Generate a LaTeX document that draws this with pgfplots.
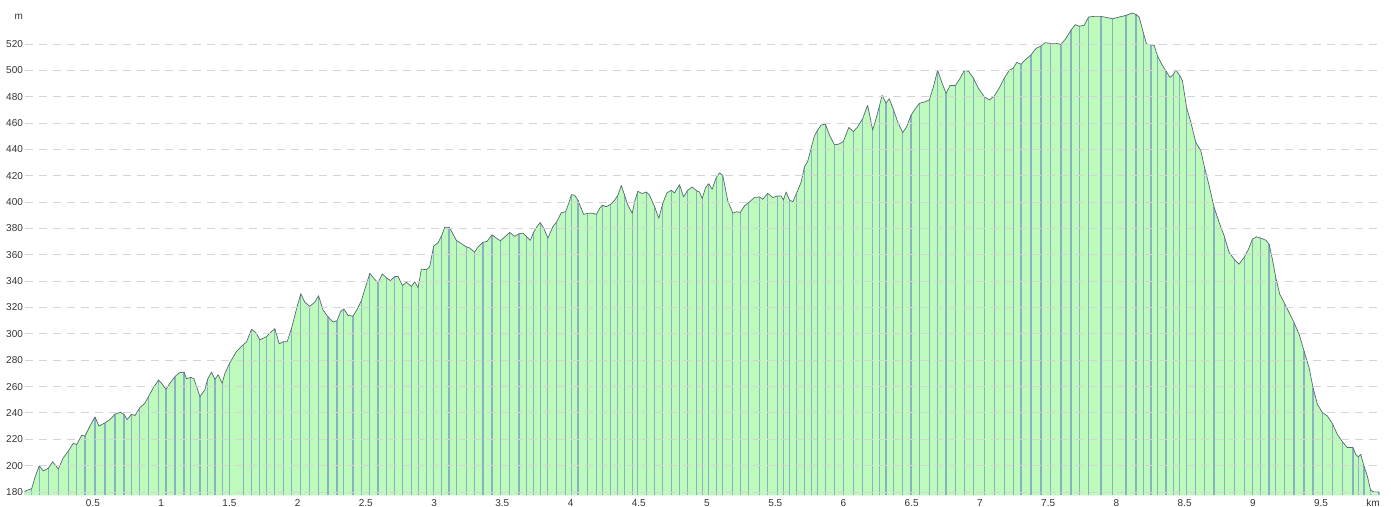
\documentclass[border=0pt]{standalone}
\usepackage{fontspec}
\setmainfont{Liberation Sans}
\usepackage{pgfplots}
\usepackage{pgfplotstable}
\pgfplotsset{compat=1.18}
\definecolor{fillg}{RGB}{190,250,188}
\definecolor{combc}{RGB}{120,155,195}
\definecolor{outl}{RGB}{85,105,115}
\definecolor{gridc}{RGB}{212,212,212}
\pgfplotstableread{
km ele
0.000 180
0.010 181
0.051 182.5
0.075 191
0.107 200
0.136 196
0.173 198
0.205 203
0.246 197.5
0.283 206
0.319 211
0.356 217
0.381 216
0.417 223
0.442 222.5
0.478 230
0.515 237
0.544 230
0.588 232.5
0.625 235
0.661 239
0.703 240.5
0.727 239
0.751 235
0.783 239
0.808 238
0.844 244
0.881 247.5
0.905 252
0.942 259
0.981 265
1.003 262.5
1.035 258
1.064 262.5
1.101 267.5
1.132 270.5
1.167 271
1.186 266
1.216 267
1.240 266
1.284 252.5
1.320 257.5
1.340 265.5
1.369 271
1.394 265.5
1.418 269
1.447 262.5
1.467 270
1.503 278
1.552 286.7
1.601 291.7
1.626 294
1.662 303.5
1.694 301
1.723 295.5
1.747 296.7
1.772 298
1.796 300.5
1.833 304
1.865 292.5
1.894 294
1.923 294
1.955 304
1.992 319
2.023 330.5
2.053 324
2.089 321
2.126 324
2.153 329
2.187 318
2.223 313
2.260 309
2.289 310
2.314 316.7
2.338 319
2.370 314
2.406 313.5
2.438 319
2.468 325.5
2.499 336
2.529 346
2.560 342
2.589 339
2.621 345.5
2.651 342.5
2.680 340.5
2.712 343.5
2.736 343.5
2.768 336.7
2.797 339.2
2.834 336
2.858 339.5
2.883 335
2.907 349.2
2.944 348.7
2.968 351
2.997 366.7
3.029 369.2
3.054 374.2
3.078 381
3.110 381
3.134 376.7
3.163 371
3.200 368.5
3.236 366
3.261 365.2
3.297 362
3.322 366
3.358 369.5
3.388 370.2
3.424 375.2
3.456 372.7
3.486 370.7
3.517 373.5
3.554 377
3.590 374
3.622 376
3.651 376.5
3.676 374
3.705 371
3.729 377
3.754 381.5
3.778 384.5
3.803 380.2
3.834 372.7
3.871 381.5
3.900 385.2
3.932 392
3.964 392.7
3.988 399.5
4.006 405.7
4.030 405.2
4.054 401.5
4.096 390.7
4.127 391.5
4.164 391.5
4.189 390.7
4.213 395.2
4.233 397.7
4.262 396.5
4.291 398.2
4.323 401.5
4.347 405.2
4.372 412.7
4.396 405.2
4.420 397.7
4.452 391.5
4.469 400.2
4.493 408.2
4.525 406.5
4.555 407.7
4.579 405.2
4.616 396.5
4.647 387.7
4.676 399
4.706 407
4.738 409
4.762 407
4.799 413.2
4.828 404
4.859 409
4.891 411.5
4.925 408.5
4.945 407.7
4.965 402.7
4.989 411
5.013 414
5.038 409.7
5.067 418.5
5.092 422.2
5.116 420.2
5.152 401
5.189 391.7
5.218 392.7
5.243 392.2
5.275 397.2
5.306 399.7
5.348 403.5
5.384 404
5.409 402.2
5.445 406.7
5.482 403.5
5.519 404.7
5.543 404.7
5.560 401.7
5.580 407.7
5.604 401.7
5.629 400.2
5.658 407.2
5.690 415.2
5.714 426.7
5.738 431
5.763 441
5.787 450.2
5.811 454.7
5.836 458.5
5.868 459.2
5.897 451
5.934 443.5
5.965 444
5.999 446
6.039 456.7
6.073 453.5
6.104 457.2
6.141 463.5
6.177 473.5
6.214 454.7
6.239 463.5
6.263 472.7
6.283 481
6.312 475.2
6.336 478.5
6.366 470.2
6.397 461
6.434 452.7
6.463 457.2
6.495 466
6.527 471
6.556 475
6.593 476
6.629 477.5
6.659 487.5
6.690 500
6.722 490.5
6.752 482.5
6.781 488.5
6.820 488.5
6.849 493
6.886 500
6.917 499.2
6.952 494.2
6.991 486
7.032 480
7.069 477.5
7.105 480.5
7.142 486.7
7.179 494.2
7.215 500
7.244 501.7
7.269 506
7.301 504.7
7.332 508
7.374 511.7
7.411 516.7
7.447 518.5
7.479 521
7.520 520.5
7.557 520.5
7.594 519.7
7.630 524.2
7.667 530.5
7.699 534.7
7.728 533.5
7.764 534.2
7.796 540.5
7.838 541
7.887 541
7.935 540
7.972 539.2
8.021 540.5
8.070 541.7
8.114 543.5
8.143 542.5
8.167 540.5
8.196 529.2
8.221 520
8.253 519.5
8.277 519
8.301 511.1
8.338 503.5
8.363 499.7
8.392 494.7
8.416 496.7
8.436 500.3
8.465 496
8.484 492.2
8.514 471.9
8.546 460.5
8.582 445.3
8.619 439
8.643 427.6
8.680 412.4
8.716 396
8.753 384.6
8.790 374.4
8.826 361.8
8.863 356.7
8.899 352.9
8.936 358
8.968 364.3
8.997 371.9
9.026 373.7
9.058 372.7
9.095 371.1
9.119 368.1
9.143 356.7
9.168 342.8
9.197 330.1
9.229 323.8
9.266 316.2
9.302 308.6
9.339 299.7
9.375 287.1
9.412 274.4
9.441 259.2
9.473 246.6
9.509 240.3
9.546 237.7
9.583 231.9
9.619 223.8
9.656 218.2
9.692 213.7
9.734 213.7
9.754 208.6
9.773 206.6
9.791 208.6
9.814 199.7
9.839 192.2
9.863 181.3
9.888 180
9.924 180
}\prof
\begin{document}
\begin{tikzpicture}
\begin{axis}[
  scale only axis,
  width=677.65pt, height=242.1pt,
  xmin=0, xmax=9.932,
  ymin=177.5, ymax=545,
  axis on top,
  axis line style={draw=none},
  major tick length=0pt,
  xtick={0.5,1,1.5,2,2.5,3,3.5,4,4.5,5,5.5,6,6.5,7,7.5,8,8.5,9,9.5},
  ytick={180,200,...,520},
  ymajorgrids,
  major grid style={gridc, line width=0.5pt, dash pattern=on 4pt off 3pt},
  /pgf/number format/assume math mode=true,
  /pgf/number format/fixed,
  ticklabel style={font=\fontsize{5}{6}\selectfont, text=black!80},
  xticklabel style={anchor=north, inner sep=0pt, yshift=-2pt},
  yticklabel style={anchor=east, inner sep=0pt, xshift=-0.7pt},
  filter discard warning=false,
]
\addplot[draw=none, fill=fillg] table[x=km, y=ele] {\prof} \closedcycle;
\addplot[ycomb, combc, line width=0.6pt, opacity=0.75, each nth point=2] table[x=km, y=ele] {\prof};
\addplot[outl, line width=0.35pt, line join=round] table[x=km, y=ele] {\prof};
\end{axis}
\node[anchor=east, inner sep=0pt, font=\fontsize{5}{6}\selectfont, text=black!80] at (-0.7pt,239.15pt) {m};
\node[anchor=east, inner sep=0pt, font=\fontsize{5}{6}\selectfont, text=black!80] at (677.65pt,-3.85pt) {km};
\pgfresetboundingbox
\path[use as bounding box] (-12.35pt,-5.85pt) rectangle (683.15pt,247.65pt);
\end{tikzpicture}
\end{document}
